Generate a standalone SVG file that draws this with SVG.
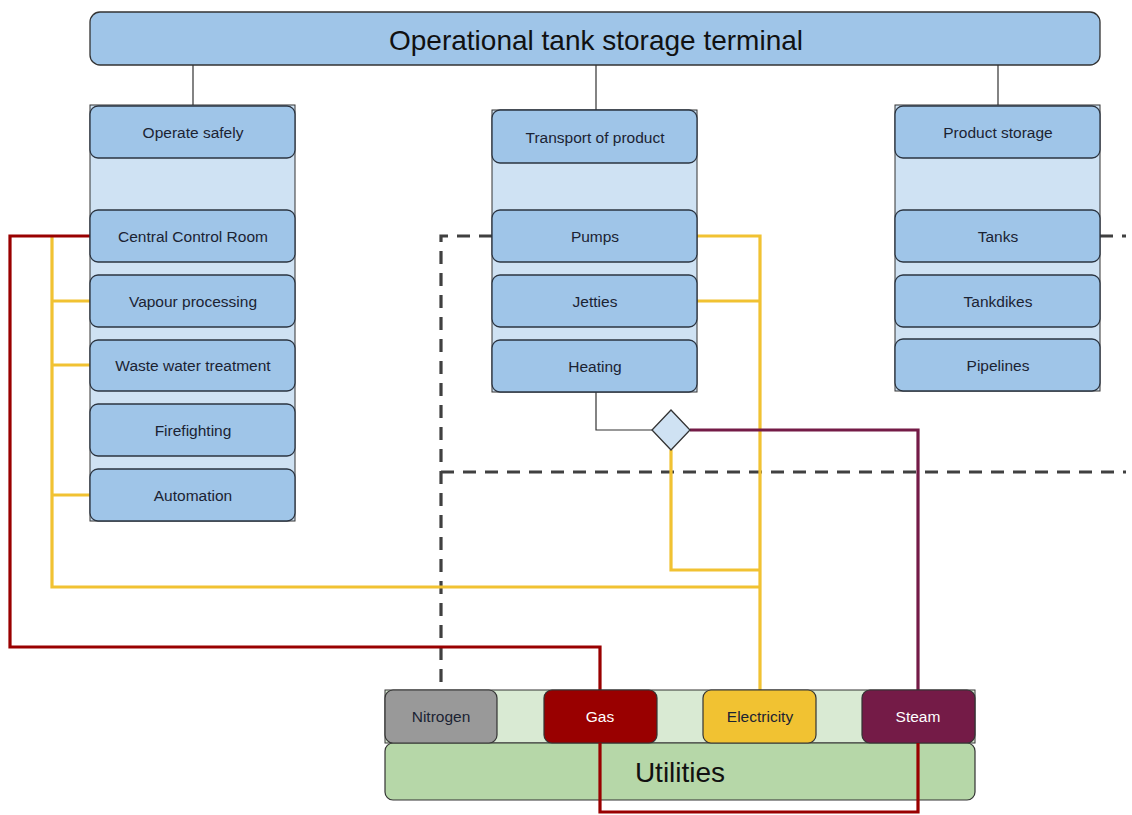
<svg xmlns="http://www.w3.org/2000/svg" width="1132" height="815" viewBox="0 0 1132 815">
<style>
  .title{fill:#9fc5e8;stroke:#333;stroke-width:1.3}
  .cont{fill:#cfe2f3;stroke:#333;stroke-width:1}
  .row{fill:#9fc5e8;stroke:#2b3440;stroke-width:1.3}
  .lbl{font-family:"Liberation Sans",Arial,sans-serif;font-size:15.5px;fill:#1b2333;text-anchor:middle}
  .big{font-family:"Liberation Sans",Arial,sans-serif;font-size:28px;fill:#111;text-anchor:middle}
  .wlbl{font-family:"Liberation Sans",Arial,sans-serif;font-size:15.5px;fill:#fff;text-anchor:middle}
  .thin{fill:none;stroke:#333;stroke-width:1.2}
  .dash{fill:none;stroke:#404040;stroke-width:3.2;stroke-dasharray:13 9}
  .yel{fill:none;stroke:#f1c232;stroke-width:3.2}
  .red{fill:none;stroke:#990000;stroke-width:3.2}
  .mar{fill:none;stroke:#741b47;stroke-width:3.2}
</style>

<g id="connectors">
  <path class="thin" d="M193,65 V105 M596,65 V110 M998,65 V105"/>
  <path class="thin" d="M596,392 V430 H652"/>
  <path class="dash" d="M492,236 H441 V690"/>
  <path class="dash" d="M441,472 H1126"/>
  <path class="dash" d="M1100,236 H1126"/>
  <path class="yel" d="M52,236 V587 H760"/>
  <path class="yel" d="M52,301 H90 M52,365 H90 M52,495 H90"/>
  <path class="yel" d="M697,236 H760 V690 M697,301 H760"/>
  <path class="yel" d="M671,450 V570 H760"/>
  <path class="mar" d="M690,430 H918 V690"/>
  <path class="red" d="M90,236 H10 V647 H600 V690"/>
</g>

<g id="title">
  <rect class="title" x="90" y="12" width="1010" height="53" rx="10"/>
  <text class="big" x="596" y="50">Operational tank storage terminal</text>
</g>

<g id="operate-safely">
  <rect class="cont" x="90" y="105" width="205" height="416"/>
  <rect class="row" x="90" y="106" width="205" height="52" rx="8"/>
  <text class="lbl" x="193" y="138">Operate safely</text>
</g>
<g id="central-control-room">
  <rect class="row" x="90" y="210" width="205" height="52" rx="8"/>
  <text class="lbl" x="193" y="242">Central Control Room</text>
</g>
<g id="vapour-processing">
  <rect class="row" x="90" y="275" width="205" height="52" rx="8"/>
  <text class="lbl" x="193" y="307">Vapour processing</text>
</g>
<g id="waste-water-treatment">
  <rect class="row" x="90" y="340" width="205" height="51" rx="8"/>
  <text class="lbl" x="193" y="371">Waste water treatment</text>
</g>
<g id="firefighting">
  <rect class="row" x="90" y="404" width="205" height="52" rx="8"/>
  <text class="lbl" x="193" y="436">Firefighting</text>
</g>
<g id="automation">
  <rect class="row" x="90" y="469" width="205" height="52" rx="8"/>
  <text class="lbl" x="193" y="501">Automation</text>
</g>

<g id="transport-of-product">
  <rect class="cont" x="492" y="110" width="205" height="282"/>
  <rect class="row" x="492" y="110" width="205" height="53" rx="8"/>
  <text class="lbl" x="595" y="143">Transport of product</text>
</g>
<g id="pumps">
  <rect class="row" x="492" y="210" width="205" height="52" rx="8"/>
  <text class="lbl" x="595" y="242">Pumps</text>
</g>
<g id="jetties">
  <rect class="row" x="492" y="275" width="205" height="52" rx="8"/>
  <text class="lbl" x="595" y="307">Jetties</text>
</g>
<g id="heating">
  <rect class="row" x="492" y="340" width="205" height="52" rx="8"/>
  <text class="lbl" x="595" y="372">Heating</text>
</g>

<g id="product-storage">
  <rect class="cont" x="895" y="105" width="205" height="286"/>
  <rect class="row" x="895" y="106" width="205" height="52" rx="8"/>
  <text class="lbl" x="998" y="138">Product storage</text>
</g>
<g id="tanks">
  <rect class="row" x="895" y="210" width="205" height="52" rx="8"/>
  <text class="lbl" x="998" y="242">Tanks</text>
</g>
<g id="tankdikes">
  <rect class="row" x="895" y="275" width="205" height="52" rx="8"/>
  <text class="lbl" x="998" y="307">Tankdikes</text>
</g>
<g id="pipelines">
  <rect class="row" x="895" y="339" width="205" height="52" rx="8"/>
  <text class="lbl" x="998" y="371">Pipelines</text>
</g>

<g id="junction">
  <polygon points="671,410 690,430 671,450 652,430" fill="#cfe2f3" stroke="#333" stroke-width="1.3"/>
</g>

<g id="utilities">
  <rect x="385" y="690" width="590" height="53" fill="#d9ead3" stroke="#333" stroke-width="1"/>
  <rect x="385" y="743" width="590" height="57" rx="8" fill="#b6d7a8" stroke="#333" stroke-width="1.2"/>
  <text class="big" x="680" y="782">Utilities</text>
</g>
<g id="nitrogen">
  <rect x="385" y="690" width="112" height="53" rx="8" fill="#999999" stroke="#333" stroke-width="1.2"/>
  <text class="lbl" x="441" y="722">Nitrogen</text>
</g>
<g id="gas">
  <rect x="544" y="690" width="113" height="53" rx="8" fill="#990000" stroke="#333" stroke-width="1.2"/>
  <text class="wlbl" x="600" y="722">Gas</text>
</g>
<g id="electricity">
  <rect x="703" y="690" width="113" height="53" rx="8" fill="#f1c232" stroke="#333" stroke-width="1.2"/>
  <text class="lbl" x="760" y="722">Electricity</text>
</g>
<g id="steam">
  <rect x="862" y="690" width="113" height="53" rx="8" fill="#741b47" stroke="#333" stroke-width="1.2"/>
  <text class="wlbl" x="918" y="722">Steam</text>
</g>

<g id="connectors-gas-loop">
  <path class="red" d="M600,743 V812 H918 V743"/>
</g>
</svg>
